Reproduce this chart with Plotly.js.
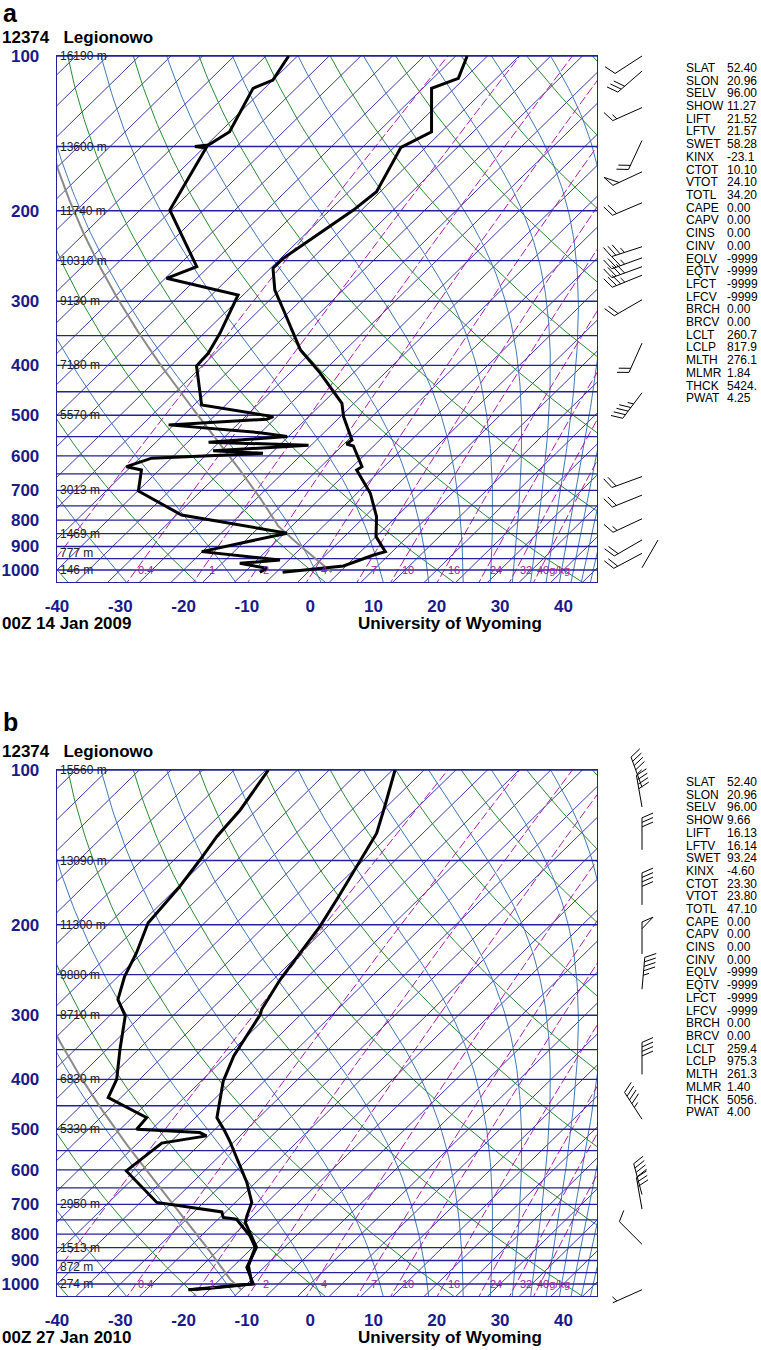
<!DOCTYPE html>
<html>
<head>
<meta charset="utf-8">
<script src="https://cdn.plot.ly/plotly-3.0.1.min.js"></script>
<style>
  body { margin: 0; background: #fff; }
  #skewt { width: 761px; height: 1350px; }
</style>
</head>
<body>
<div id="skewt"></div>
<script>
const stationTitle = '12374\u00a0\u00a0\u00a0Legionowo'
const panelLetters = ['a', 'b']
const dates = ['00Z 14 Jan 2009', '00Z 27 Jan 2010']

// a: temperature / dew point (hPa, degC)
const tPresA = [1010, 982, 935, 921, 861, 788, 709, 639, 629.5, 573.9, 568.8, 558.5, 503, 474, 414, 373, 312, 285.3, 258.8, 247.6, 199.4, 183.7, 150.6, 140.4, 115.6, 110.5, 100]
const tempA = [-4.0, 4.6, 7.6, 8.9, 5.0, 1.9, -2.9, -8.8, -8.5, -13.2, -14.6, -14.4, -19.5, -21.9, -30.2, -37.1, -46.2, -50.8, -54.6, -54.6, -51.3, -50.6, -53.9, -51.6, -58.6, -56.0, -58.2]
const dPresA = [1010, 992.5, 970.5, 956, 921, 848, 781.6, 702, 639, 629.5, 606, 599, 593, 586, 572, 564, 550, 540.5, 522, 509, 503, 477.5, 401, 378.8, 346, 291.7, 270.7, 257, 199.4, 151, 150, 149, 140.4, 115.6, 111.4, 100]
const dwptA = [-7.6, -7.1, -12.2, -6.4, -20.1, -9.6, -29.2, -39.9, -42.8, -45.7, -43.1, -34.3, -26.3, -34.6, -20.4, -36.7, -25.2, -30.1, -45.8, -31.2, -30.6, -43.8, -50.9, -51.1, -52.5, -55.8, -69.8, -66.9, -80.3, -84.6, -86.6, -84.7, -83.5, -86.8, -85.0, -86.4]

// b
const tPresB = [1026, 1020, 1000, 928, 848.6, 759, 737, 694, 634.6, 527, 504, 474.6, 403, 360, 299, 292.4, 255.7, 201.5, 176, 154, 132.7, 117.9, 100]
const tempB = [-18.3, -15.5, -9.0, -12.7, -14.4, -20.2, -21.0, -22.4, -26.4, -35.8, -38.2, -41.6, -46.5, -48.9, -51.4, -52.0, -53.9, -56.2, -58.1, -60.1, -62.3, -65.3, -69.6]
const dPresB = [1026, 1000, 921.5, 848.6, 806, 748, 742, 724, 694, 602.6, 532, 515, 507.5, 500, 474.6, 434, 400, 350, 301, 279.7, 252, 227, 198.5, 168.5, 149.5, 134.7, 119.6, 100]
const dwptB = [-18.3, -9.2, -12.7, -14.6, -17.3, -22.1, -24.5, -25.6, -37.4, -47.3, -46.2, -40.3, -41.9, -52.4, -52.7, -62.0, -63.6, -67.9, -72.5, -76.3, -79.0, -80.9, -83.9, -84.8, -85.9, -87.0, -87.6, -89.6]

// winds (hPa, deg, kt)
const windPresA = [990, 928, 874, 795, 715, 658, 452, 362, 298, 267, 257, 247, 235, 193, 168, 146, 126, 107, 100]
const windDirA = [30, 242, 240, 245, 248, 250, 217, 204, 240, 248, 250, 250, 252, 247, 245, 205, 246, 229, 237]
const windSpdA = [2, 20, 20, 15, 20, 20, 45, 20, 20, 35, 40, 35, 35, 20, 50, 20, 15, 30, 10]
const windPresB = [1026, 837, 715, 670, 478, 391, 267, 228, 183, 143, 118, 108]
const windDirB = [246, 315, 350, 345, 327, 0, 5, 0, 0, 0, 350, 340]
const windSpdB = [5, 10, 30, 40, 45, 40, 45, 50, 40, 30, 40, 45]

// heights of the mandatory levels
const heightLevels = [1000, 925, 850, 700, 500, 400, 300, 250, 200, 150, 100]
const heightsA = ['146 m', '777 m', '1469 m', '3013 m', '5570 m', '7180 m', '9130 m', '10310 m', '11740 m', '13600 m', '16190 m']
const heightsB = ['274 m', '872 m', '1513 m', '2950 m', '5330 m', '6830 m', '8710 m', '9880 m', '11300 m', '13090 m', '15560 m']

// station indices
const statNames = ['SLAT', 'SLON', 'SELV', 'SHOW', 'LIFT', 'LFTV', 'SWET', 'KINX', 'CTOT', 'VTOT', 'TOTL', 'CAPE', 'CAPV', 'CINS', 'CINV', 'EQLV', 'EQTV', 'LFCT', 'LFCV', 'BRCH', 'BRCV', 'LCLT', 'LCLP', 'MLTH', 'MLMR', 'THCK', 'PWAT']
const statsA = ['52.40', '20.96', '96.00', '11.27', '21.52', '21.57', '58.28', '-23.1', '10.10', '24.10', '34.20', '0.00', '0.00', '0.00', '0.00', '-9999', '-9999', '-9999', '-9999', '0.00', '0.00', '260.7', '817.9', '276.1', '1.84', '5424.', '4.25']
const statsB = ['52.40', '20.96', '96.00', '9.66', '16.13', '16.14', '93.24', '-4.60', '23.30', '23.80', '47.10', '0.00', '0.00', '0.00', '0.00', '-9999', '-9999', '-9999', '-9999', '0.00', '0.00', '259.4', '975.3', '261.3', '1.40', '5056.', '4.00']

// diagram background
const xTicks = [-40, -30, -20, -10, 0, 10, 20, 30, 40]
const yTicks = [100, 200, 300, 400, 500, 600, 700, 800, 900, 1000]
const isobars = [100, 150, 200, 250, 300, 350, 400, 450, 500, 550, 600, 650, 700, 750, 800, 850, 900, 950, 1000]
const mixRatios = [0.1, 0.4, 1, 2, 4, 7, 10, 16, 24, 32, 40]
const mixLabels = ['', '0.4', '1', '2', '4', '7', '10', '16', '24', '32', '40g/kg']

// ---------- geometry ----------
const W = 761, H = 1350
const PLOT_L = 57, PLOT_R = 597, PLOT_H = 526, DEC = 514
const TOPS = [56, 770]
const XMIN = -40, PX_PER_C = 6.33
const XMAX = XMIN + (PLOT_R - PLOT_L) / PX_PER_C
const LOGBOT = 2 + PLOT_H / DEC
const SKEW = 83
const BARB_X = 642
const FONT = 'Liberation Sans, Arial, sans-serif'
const NAVY = '#1a1a8a'

const skewX = (t, p) => t + SKEW * Math.log10(1000 / p)

// ---------- thermodynamics ----------
const esat = tc => 6.112 * Math.exp(17.67 * tc / (tc + 243.5))
const dewFromE = e => { const l = Math.log(e / 6.112); return 243.5 * l / (17.67 - l) }
function thetaE(tk, p, r, tl, f) {
  return tk * Math.pow(1000 / p, 0.2854 * (1 - 0.00028 * r)) * Math.exp(f * (3.376 / tl - 0.00254) * r * (1 + 0.00081 * r))
}
function thetaES(tk, p, f) {
  const e = esat(tk - 273.15)
  if (e > 0.5 * p) return 1e9
  return thetaE(tk, p, 622 * e / (p - e), tk, f)
}
function tempOnThetaE(the, p, f) {
  let lo = 120, hi = 340
  for (let i = 0; i < 40; i++) {
    const mid = (lo + hi) / 2
    if (thetaES(mid, p, f) > the) hi = mid; else lo = mid
  }
  return (lo + hi) / 2 - 273.15
}
// the printed moist adiabats run a little steeper near the ground than Bolton's
const GRID_LATENT = 0.83

const pLevels = []
for (let lp = Math.log10(1080); lp > Math.log10(95); lp -= 0.01) pLevels.push(Math.pow(10, lp))
pLevels.push(95)

function curveSet(values, fn) {
  const xs = [], ys = []
  values.forEach(v => {
    pLevels.forEach(p => { xs.push(skewX(fn(v, p), p)); ys.push(p) })
    xs.push(null); ys.push(null)
  })
  return { xs, ys }
}
const line = (set, color, width, dash, k) => ({
  x: set.xs, y: set.ys, mode: 'lines', hoverinfo: 'skip',
  line: { color, width, dash: dash || 'solid' },
  xaxis: k ? 'x2' : 'x', yaxis: k ? 'y2' : 'y'
})

const isotherms = []
for (let t = -130; t <= 45; t += 5) isotherms.push(t)
const dryThetas = []
for (let n = -4; n <= 10; n++) dryThetas.push(273.15 + 20 * n)
const moistThetas = []
for (let n = -2; n <= 11; n++) moistThetas.push(283.15 + 20 * n)

const isoSet = curveSet(isotherms, (t, p) => t)
const drySet = curveSet(dryThetas, (th, p) => th * Math.pow(p / 1000, 0.2857) - 273.15)
const moistSet = curveSet(moistThetas, (the, p) => tempOnThetaE(the, p, GRID_LATENT))
const mixSet = curveSet(mixRatios, (r, p) => dewFromE(p * r / (622 + r)))
const barSet = { xs: [], ys: [] }
isobars.forEach(p => { barSet.xs.push(XMIN - 5, XMAX + 5, null); barSet.ys.push(p, p, null) })

function parcel(pSfc, stats) {
  const lclt = parseFloat(stats[21]), lclp = parseFloat(stats[22])
  const mlth = parseFloat(stats[23]), mlmr = parseFloat(stats[24])
  const the = thetaE(lclt, lclp, mlmr, lclt, 1)
  const xs = [], ys = []
  for (let lp = Math.log10(pSfc); lp > Math.log10(95); lp -= 0.005) {
    const p = Math.pow(10, lp)
    const t = p >= lclp ? mlth * Math.pow(p / 1000, 0.2857) - 273.15 : tempOnThetaE(the, p, 1)
    xs.push(skewX(t, p)); ys.push(p)
  }
  return { xs, ys }
}

function profile(pres, temps) {
  return { xs: pres.map((p, i) => skewX(temps[i], p)), ys: pres }
}

function barbs(pres, dirs, spds, k) {
  const xs = [], ys = []
  const L = 32, BL = 12, SP = 4.5
  pres.forEach((p, i) => {
    const d = dirs[i] * Math.PI / 180
    const ux = Math.sin(d), uy = -Math.cos(d)
    const vx = -uy, vy = ux
    const bx = 0.92 * vx + 0.4 * ux, by = 0.92 * vy + 0.4 * uy
    const pt = (dx, dy) => { xs.push(BARB_X + dx); ys.push(p * Math.pow(10, dy / DEC)) }
    const brk = () => { xs.push(null); ys.push(null) }
    pt(0, 0); pt(L * ux, L * uy); brk()
    let s = Math.round(spds[i] / 5) * 5
    let pos = L
    while (s >= 50) {
      pt(pos * ux, pos * uy); pt(pos * ux + BL * bx, pos * uy + BL * by); pt((pos - 1.5 * SP) * ux, (pos - 1.5 * SP) * uy); brk()
      pos -= 2 * SP; s -= 50
    }
    while (s >= 10) {
      pt(pos * ux, pos * uy); pt(pos * ux + BL * bx, pos * uy + BL * by); brk()
      pos -= SP; s -= 10
    }
    if (s >= 5) {
      if (pos === L) pos -= SP
      pt(pos * ux, pos * uy); pt(pos * ux + BL / 2 * bx, pos * uy + BL / 2 * by); brk()
    }
  })
  return {
    x: xs, y: ys, mode: 'lines', hoverinfo: 'skip', line: { color: '#000', width: 1 },
    xaxis: k ? 'x4' : 'x3', yaxis: k ? 'y4' : 'y3'
  }
}

const panels = [
  { tp: tPresA, t: tempA, dp: dPresA, d: dwptA, wp: windPresA, wd: windDirA, ws: windSpdA, hts: heightsA, stats: statsA },
  { tp: tPresB, t: tempB, dp: dPresB, d: dwptB, wp: windPresB, wd: windDirB, ws: windSpdB, hts: heightsB, stats: statsB }
]

const traces = []
const annotations = []
const layout = {
  width: W, height: H, showlegend: false,
  margin: { l: 0, r: 0, t: 0, b: 0 },
  paper_bgcolor: '#fff', plot_bgcolor: 'rgba(0,0,0,0)',
  font: { family: FONT, color: '#000' },
  annotations
}
const px = x => x / W
const py = y => 1 - y / H
const note = (text, x, y, opts) => Object.assign({ text, x, y, xref: 'paper', yref: 'paper', showarrow: false, xanchor: 'left', yanchor: 'middle' }, opts)
const bold17 = { family: FONT, size: 17, color: '#000', weight: 'bold' }
const letterY = [13, 722]

panels.forEach((pn, k) => {
  const top = TOPS[k]
  const sfx = k ? '2' : ''
  traces.push(line(isoSet, '#3a3aae', 1, null, k))
  traces.push(line(drySet, '#2a8a35', 1, null, k))
  traces.push(line(moistSet, '#4378b4', 1, null, k))
  traces.push(line(mixSet, '#a81ea8', 1, '9px,3px', k))
  traces.push(line(barSet, '#22229a', 1.3, null, k))
  traces.push(line(parcel(pn.tp[0], pn.stats), '#8a8a8a', 2, null, k))
  traces.push(line(profile(pn.dp, pn.d), '#000', 3, null, k))
  traces.push(line(profile(pn.tp, pn.t), '#000', 3, null, k))
  traces.push(barbs(pn.wp, pn.wd, pn.ws, k))

  layout['xaxis' + sfx] = {
    domain: [px(PLOT_L), px(PLOT_R)], range: [XMIN, XMAX], anchor: 'y' + sfx,
    showgrid: false, zeroline: false, showline: true, mirror: true, linecolor: '#22229a', linewidth: 1.3,
    tickmode: 'array', tickvals: xTicks, ticktext: xTicks.map(String), ticks: '',
    tickfont: { family: FONT, size: 17, color: NAVY, weight: 'bold' }, ticklabelstandoff: 8, fixedrange: true
  }
  layout['yaxis' + sfx] = {
    domain: [py(top + PLOT_H), py(top)], type: 'log', range: [LOGBOT, 2], anchor: 'x' + sfx,
    showgrid: false, zeroline: false, showline: true, mirror: true, linecolor: '#22229a', linewidth: 1.3,
    tickmode: 'array', tickvals: yTicks, ticktext: yTicks.map(String), ticks: '',
    tickfont: { family: FONT, size: 17, color: NAVY, weight: 'bold' }, ticklabelstandoff: 13, fixedrange: true
  }
  const bx = k ? '4' : '3'
  layout['xaxis' + bx] = { domain: [0, 1], range: [0, W], anchor: 'y' + bx, visible: false, fixedrange: true }
  layout['yaxis' + bx] = {
    domain: [py(top + PLOT_H + 40), py(top - 40)], type: 'log',
    range: [LOGBOT + 40 / DEC, 2 - 40 / DEC], anchor: 'x' + bx, visible: false, fixedrange: true
  }

  // titles
  annotations.push(note(panelLetters[k], px(1), py(letterY[k]), { font: { family: FONT, size: 25, color: '#000', weight: 'bold' } }))
  annotations.push(note(stationTitle, px(0), py(top - 19), { font: bold17 }))
  annotations.push(note(dates[k], px(0), py(top + 567), { font: bold17 }))
  annotations.push(note('University of Wyoming', px(450), py(top + 567), { font: bold17, xanchor: 'center' }))

  // heights on the mandatory isobars
  heightLevels.forEach((p, i) => {
    annotations.push({
      text: pn.hts[i], x: XMIN, y: Math.log10(p), xref: 'x' + sfx, yref: 'y' + sfx,
      showarrow: false, xanchor: 'left', yanchor: 'middle', xshift: 1,
      font: { family: FONT, size: 12, color: '#222' }
    })
  })

  // mixing ratio labels along 1000 hPa
  mixRatios.forEach((r, i) => {
    if (!mixLabels[i]) return
    const last = i === mixRatios.length - 1
    annotations.push({
      text: mixLabels[i], x: skewX(dewFromE(1000 * r / (622 + r)), 1000), y: 3, xref: 'x' + sfx, yref: 'y' + sfx,
      showarrow: false, xanchor: last ? 'left' : 'center', yanchor: 'middle', xshift: last ? -5 : 10,
      font: { family: FONT, size: 11, color: '#a020a0' }
    })
  })

  // stats column
  statNames.forEach((s, i) => {
    const y = top + 12 + i * 12.7
    annotations.push(note(s, px(684), py(y), { font: { family: FONT, size: 12, color: '#000' } }))
    annotations.push(note(pn.stats[i], px(725), py(y), { font: { family: FONT, size: 12, color: '#000' } }))
  })
})

Plotly.newPlot('skewt', traces, layout, { staticPlot: true, displayModeBar: false })
</script>
</body>
</html>
